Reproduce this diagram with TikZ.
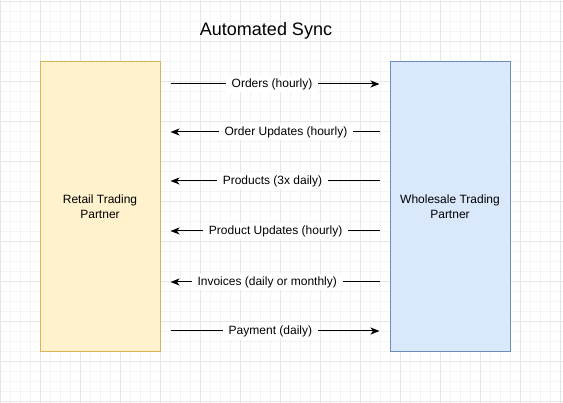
\documentclass[tikz,border=0pt]{standalone}
\usepackage{fontspec}
\setmainfont{Liberation Sans}
\usetikzlibrary{arrows.meta}
\definecolor{retailfill}{HTML}{FFF2CC}
\definecolor{retailline}{HTML}{D6B656}
\definecolor{wholefill}{HTML}{DAE8FC}
\definecolor{wholeline}{HTML}{6C8EBF}
\definecolor{gridmajor}{HTML}{E6E6E6}
\definecolor{gridminor}{HTML}{F4F4F4}

\begin{document}
\begin{tikzpicture}[x=1pt,y=-1pt,
		partner/.style={draw,line width=1pt,minimum width=120pt,minimum height=290pt,inner sep=0pt,align=center,font=\fontsize{12}{15}\selectfont},
		flow/.style={line width=1pt,shorten <=10pt,shorten >=10pt,-{Stealth[length=9pt,width=7pt,inset=2.5pt]}},
		lab/.style={fill=white,inner xsep=6pt,inner ysep=2pt,font=\fontsize{12}{14}\selectfont}]
				\useasboundingbox[fill=white] (0,0) rectangle (563,403);
				% background grid
				\foreach \i in {0,...,56} \draw[gridminor,line width=.6pt] (\i*10+0.7,0) -- (\i*10+0.7,403);
				\foreach \i in {0,...,40} \draw[gridminor,line width=.6pt] (0,\i*10+1) -- (563,\i*10+1);
				\foreach \i in {0,...,14} \draw[gridmajor,line width=.8pt] (\i*40+0.7,0) -- (\i*40+0.7,403);
				\foreach \i in {0,...,10} \draw[gridmajor,line width=.8pt] (0,\i*40+1) -- (563,\i*40+1);
				\node[font=\fontsize{18}{22}\selectfont] (title) at (266,31) {Automated Sync};
				\node[partner,draw=retailline,fill=retailfill] (retail) at (100,206.25) {Retail Trading\\Partner};
				\node[partner,draw=wholeline,fill=wholefill] (wholesale) at (450,206.25) {Wholesale Trading\\Partner};
				\draw[flow] (retail.east |- 0,84) -- node[lab,pos=.487] {Orders (hourly)} (wholesale.west |- 0,84);
				\draw[flow] (wholesale.west |- 0,132) -- node[lab,pos=.452] {Order Updates (hourly)} (retail.east |- 0,132);
				\draw[flow] (wholesale.west |- 0,181) -- node[lab,pos=.511] {Products (3x daily)} (retail.east |- 0,181);
				\draw[flow] (wholesale.west |- 0,231) -- node[lab,pos=.497] {Product Updates (hourly)} (retail.east |- 0,231);
				\draw[flow] (wholesale.west |- 0,282) -- node[lab,pos=.534] {Invoices (daily or monthly)} (retail.east |- 0,282);
				\draw[flow] (retail.east |- 0,331) -- node[lab,pos=.480] {Payment (daily)} (wholesale.west |- 0,331);
			\end{tikzpicture}
\end{document}
